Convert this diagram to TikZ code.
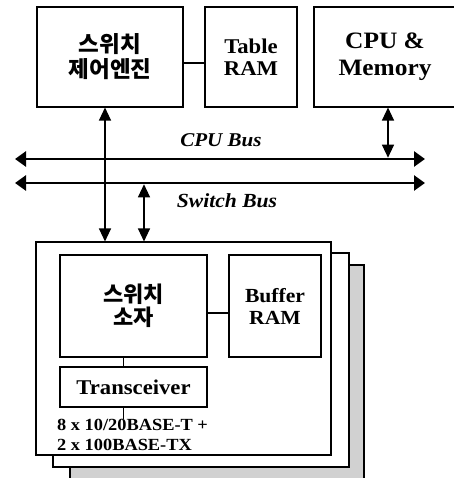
\documentclass[tikz,border=0pt]{standalone}
\usepackage{fontspec}
\setmainfont{Liberation Serif}[FakeStretch=1.08]
\newfontfamily\kr{Noto Sans CJK KR}
\usetikzlibrary{arrows.meta}

\tikzset{
  blk/.style={draw,line width=1.1pt,inner sep=0pt,align=center,font=\bfseries},
  wire/.style={line width=1.1pt},
  bus/.style={line width=2.6pt,>={Triangle[length=11pt,width=15pt]},<->},
  link/.style={line width=1.2pt,>={Triangle[length=13pt,width=12pt]},<->}
}

\begin{document}
\begin{tikzpicture}[x=1pt,y=-1pt]
\useasboundingbox (0,0) rectangle (453,478);
\node at (110,57)[blk,minimum width=146pt,minimum height=100pt,font=\kr\bfseries\fontsize{22.5}{25}\selectfont] (eng) {스위치\\제어엔진};
\node at (251,57)[blk,minimum width=92pt,minimum height=100pt,font=\bfseries\fontsize{21}{22}\selectfont] (tab) {Table\\RAM};
\node at (385,57)[blk,minimum width=142pt,minimum height=100pt,font=\bfseries\fontsize{23.5}{27}\selectfont] (cpu) {CPU \&\\Memory};
\draw[wire] ([yshift=-6pt]eng.east) -- ([yshift=-6pt]tab.west);

\coordinate (cpuL) at (15,159);
\coordinate (cpuR) at (425,159);
\coordinate (swL) at (15,183);
\coordinate (swR) at (425,183);
\coordinate (swtap) at (144,183);
\draw[bus] (cpuL) -- (cpuR);
\draw[bus] (swL) -- (swR);
\node at (221,140)[font=\bfseries\itshape\fontsize{19.5}{24}\selectfont] (cpulbl) {CPU Bus};
\node at (227,201)[font=\bfseries\itshape\fontsize{20}{24}\selectfont] (swlbl) {Switch Bus};

\draw[wire,fill=black!18] (70,265) rectangle (364,485);
\draw[wire,fill=white] (53,253) rectangle (349,467);
\node at (183.5,348.5)[draw,wire,fill=white,minimum width=295pt,minimum height=213pt] (card) {};
\node at (133.5,306)[blk,minimum width=147pt,minimum height=102pt,font=\kr\bfseries\fontsize{22}{23}\selectfont] (sw) {스위치\\소자};
\node at (275,306)[blk,minimum width=92pt,minimum height=102pt,font=\bfseries\fontsize{20}{22}\selectfont] (buf) {Buffer\\RAM};
\node at (133.5,387)[blk,minimum width=147pt,minimum height=40pt,font=\bfseries\fontsize{21}{24}\selectfont] (trx) {Transceiver};
\node at (57,419)[anchor=north west,inner sep=0pt,align=left,font=\bfseries\fontsize{17}{20}\selectfont] (ports) {8 x 10/20BASE-T +\\2 x 100BASE-TX};
\draw[wire] ([yshift=-7pt]sw.east) -- ([yshift=-7pt]buf.west);
\draw[wire] ([xshift=-10pt]sw.south) -- ([xshift=-10pt]trx.north);
\draw[wire] ([xshift=-10pt]trx.south) -- ([xshift=-10pt]trx.south |- ports.north);

\draw[link] ([xshift=-5pt]eng.south) -- ([xshift=-5pt]eng.south |- card.north);
\draw[link,shorten >=1.3pt] ([xshift=3pt]cpu.south) -- ([xshift=3pt]cpu.south |- cpuR);
\draw[link,shorten <=1.3pt] (swtap) -- (swtap |- card.north);
\end{tikzpicture}
\end{document}
